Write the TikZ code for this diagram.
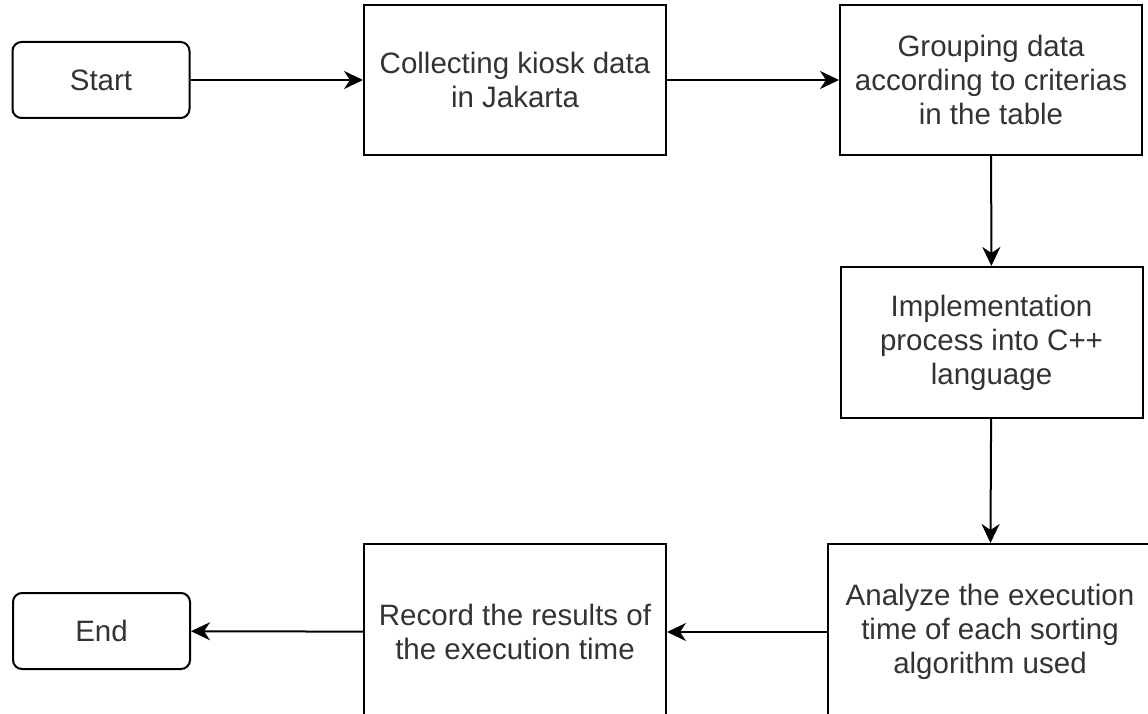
\documentclass[tikz,border=0pt]{standalone}
\usepackage{fontspec}
\setmainfont{Liberation Sans}
\usetikzlibrary{arrows.meta, positioning}

\tikzset{
  stepbox/.style={draw, line width=2pt, minimum width=302pt, minimum height=150pt, align=center, text=black!80, font=\fontsize{29.5}{34}\selectfont},
  termbox/.style={stepbox, rounded corners=9pt, minimum width=177pt, minimum height=76pt},
  flow/.style={-{Stealth[length=19pt,width=18pt,inset=6pt]}, line width=2pt}
}

\begin{document}
\begin{tikzpicture}[x=1pt,y=-1pt]
\useasboundingbox (0,0) rectangle (1148,714);
\clip (0,0) rectangle (1148,714);
% Top row
\node[termbox] (start) at (101,80) {Start};
\node[stepbox] (collect) at (515,80) {Collecting kiosk data\\in Jakarta};
\node[stepbox] (group) at (991,80) {Grouping data\\according to criterias\\in the table};
% Right column
\node[stepbox, minimum height=151pt] (impl) at (991.5,342.5) {Implementation\\process into C++\\language};
\node[stepbox, minimum width=324pt, minimum height=176pt] (analyze) at (990,632) {Analyze the execution\\time of each sorting\\algorithm used};
% Bottom row
\node[stepbox, minimum height=176pt] (record) at (515,632) {Record the results of\\the execution time};
\node[termbox] (finish) at (101.5,631) {End};
% Connectors
\draw[flow] (start) -- (collect);
\draw[flow] (collect) -- (group);
\draw[flow] (group) -- (impl);
\draw[flow] (impl) -- (analyze);
\draw[flow] (analyze) -- (record);
\draw[flow] (record) -- (finish);
\end{tikzpicture}
\end{document}
